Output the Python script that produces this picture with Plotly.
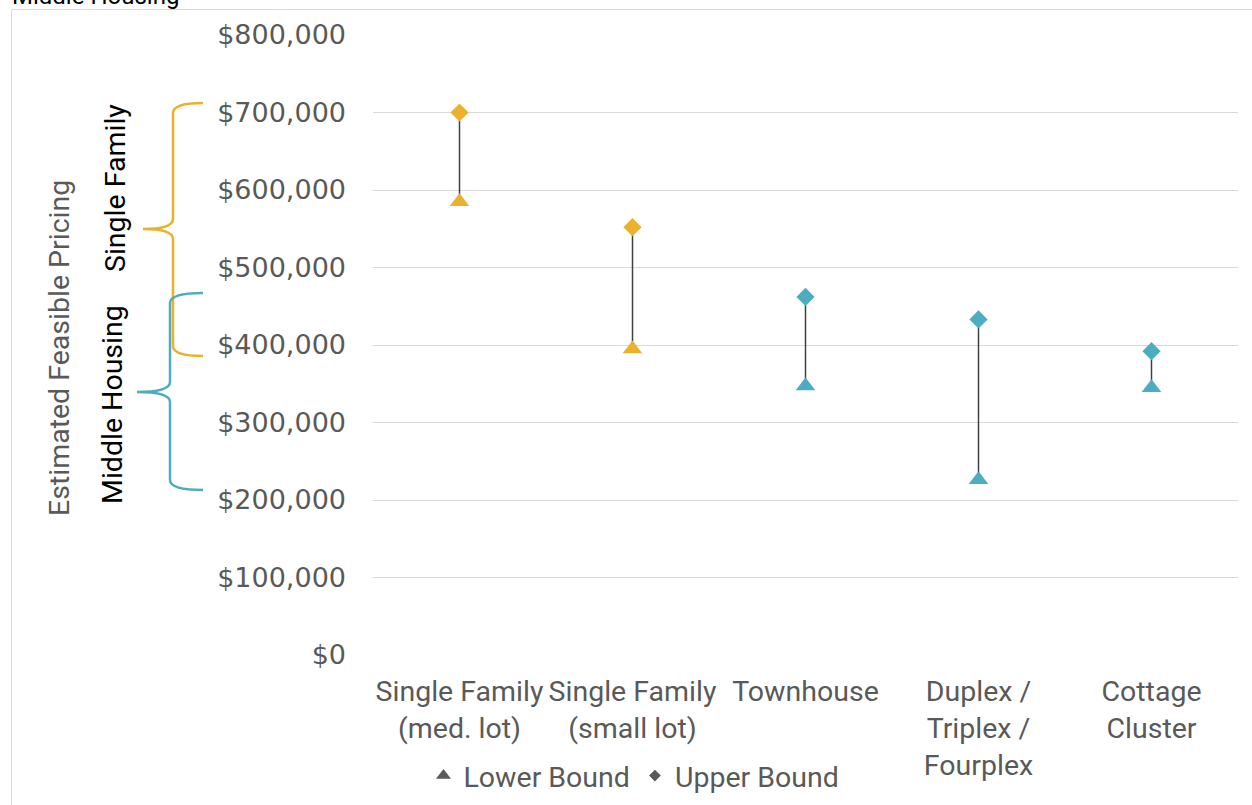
import plotly.graph_objects as go

# Housing types and estimated feasible price ranges
categories = [
    "Single Family<br>(med. lot)",
    "Single Family<br>(small lot)",
    "Townhouse",
    "Duplex /<br>Triplex /<br>Fourplex",
    "Cottage<br>Cluster",
]
lower_bound = [585000, 395000, 347000, 226000, 345000]
upper_bound = [700000, 552000, 462000, 433000, 392000]
group = ["single", "single", "middle", "middle", "middle"]

ORANGE = "#EAB12C"
TEAL = "#4CADC1"
GRAY_TXT = "#595959"
colors = [ORANGE if g == "single" else TEAL for g in group]

W, H = 1252, 805
L, R, T, B = 373, 14, 35, 150
plot_w, plot_h = W - L - R, H - T - B
Y_MAX = 800000
LABEL_SIZE = 28.5


def px_x(px):
    return (px - L) / plot_w


def px_y(py):
    return (H - B - py) / plot_h


def px_val(py):
    return (H - B - py) / plot_h * Y_MAX


fig = go.Figure()

# connecting range lines
lx, ly = [], []
for c, lo, hi in zip(categories, lower_bound, upper_bound):
    lx += [c, c, None]
    ly += [lo, hi, None]
fig.add_trace(go.Scatter(x=lx, y=ly, mode="lines", line=dict(color="#404040", width=1.5),
                         hoverinfo="skip", showlegend=False))

fig.add_trace(go.Scatter(x=categories, y=lower_bound, mode="markers", name="Lower Bound",
                         marker=dict(symbol="triangle-up", size=17, color=colors),
                         showlegend=False))
fig.add_trace(go.Scatter(x=categories, y=upper_bound, mode="markers", name="Upper Bound",
                         marker=dict(symbol="diamond", size=14, color=colors),
                         showlegend=False))

# legend entries in neutral gray
fig.add_trace(go.Scatter(x=[None], y=[None], mode="markers", name="Lower Bound",
                         marker=dict(symbol="triangle-up", size=13, color=GRAY_TXT)))
fig.add_trace(go.Scatter(x=[None], y=[None], mode="markers", name="Upper Bound",
                         marker=dict(symbol="diamond", size=9, color=GRAY_TXT)))


def brace(x_end, x_spine, x_tip, y_top, y_tip, y_bot, r=10):
    """Curly brace path; x in paper units, y in data units (given in pixels)."""
    xe, xs, xt = px_x(x_end), px_x(x_spine), px_x(x_tip)
    yt, ym, yb = px_val(y_top), px_val(y_tip), px_val(y_bot)
    d = Y_MAX / plot_h * r
    return (f"M{xe},{yt} Q{xs},{yt} {xs},{yt - d} "
            f"L{xs},{ym + d} Q{xs},{ym} {xt},{ym} "
            f"Q{xs},{ym} {xs},{ym - d} "
            f"L{xs},{yb + d} Q{xs},{yb} {xe},{yb}")


shapes = [
    dict(type="path", xref="paper", yref="y",
         path=brace(203, 173, 143, 103, 229, 356), line=dict(color=ORANGE, width=2.5)),
    dict(type="path", xref="paper", yref="y",
         path=brace(203, 170, 137, 293, 392, 490), line=dict(color=TEAL, width=2.5)),
    dict(type="rect", xref="paper", yref="paper",
         x0=px_x(11.5), x1=px_x(1300), y0=px_y(830), y1=px_y(9.5),
         line=dict(color="#D9D9D9", width=1), layer="below"),
]

annotations = [
    dict(text="Middle Housing", xref="paper", yref="paper", x=px_x(10), y=px_y(12),
         xanchor="left", yanchor="bottom", showarrow=False,
         font=dict(family="Roboto", size=24, color="#000000")),
    dict(text="Estimated Feasible Pricing", xref="paper", yref="paper",
         x=px_x(59), y=px_y(348), textangle=-90, showarrow=False,
         xanchor="center", yanchor="middle",
         font=dict(family="Roboto", size=LABEL_SIZE, color=GRAY_TXT)),
    dict(text="Single Family", xref="paper", yref="paper",
         x=px_x(115), y=px_y(188), textangle=-90, showarrow=False,
         xanchor="center", yanchor="middle",
         font=dict(family="Roboto", size=LABEL_SIZE, color="#000000")),
    dict(text="Middle Housing", xref="paper", yref="paper",
         x=px_x(112), y=px_y(405), textangle=-90, showarrow=False,
         xanchor="center", yanchor="middle",
         font=dict(family="Roboto", size=LABEL_SIZE, color="#000000")),
]

fig.update_layout(
    width=W, height=H,
    margin=dict(l=L, r=R, t=T, b=B, autoexpand=False),
    paper_bgcolor="white", plot_bgcolor="white",
    shapes=shapes, annotations=annotations,
    legend=dict(orientation="h", x=px_x(634), y=px_y(776), xanchor="center", yanchor="middle",
                font=dict(family="Roboto", size=LABEL_SIZE, color=GRAY_TXT), itemwidth=30,
                bgcolor="rgba(0,0,0,0)"),
    xaxis=dict(type="category", range=[-0.5, 4.5], showgrid=False, zeroline=False,
               showline=False, ticks="", ticklabelstandoff=16,
               tickfont=dict(family="Roboto", size=LABEL_SIZE, color=GRAY_TXT)),
    yaxis=dict(range=[0, Y_MAX], dtick=100000, tickprefix="$", tickformat=",d",
               showgrid=True, gridcolor="#D9D9D9", gridwidth=1, zeroline=False,
               showline=False, ticks="", ticklabelstandoff=26,
               tickfont=dict(family="DejaVu Sans", size=27, color=GRAY_TXT)),
)

fig.write_html("out.html")
